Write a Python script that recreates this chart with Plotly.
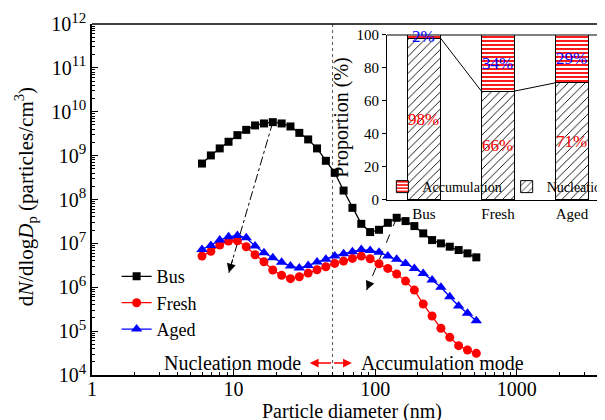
import math
import plotly.graph_objects as go

# ---------------- data ----------------
diameter_nm = [5.98, 6.91, 7.98, 9.21, 10.64, 12.28, 14.18, 16.38, 18.91, 21.84,
               25.22, 29.12, 33.63, 38.84, 44.85, 51.79, 59.81, 69.07, 79.76, 92.10,
               106.4, 122.8, 141.8, 163.8, 189.1, 218.4, 252.2, 291.2, 336.3, 388.4,
               448.5, 517.9]

bus = [6.6e8, 1.01e9, 1.46e9, 2.07e9, 2.93e9, 3.87e9, 4.88e9, 5.41e9, 5.79e9, 5.41e9,
       4.62e9, 3.30e9, 2.34e9, 1.46e9, 7.62e8, 4.06e8, 1.60e8, 6.46e7, 2.79e7, 1.81e7,
       2.04e7, 2.94e7, 3.83e7, 3.22e7, 2.48e7, 1.69e7, 1.19e7, 1.00e7, 8.4e6, 7.05e6,
       5.92e6, 4.80e6]

fresh = [5.14e6, 6.58e6, 9.14e6, 1.13e7, 1.15e7, 8.38e6, 5.51e6, 3.81e6, 2.47e6, 1.87e6,
         1.57e6, 1.74e6, 2.10e6, 2.51e6, 2.94e6, 3.50e6, 3.95e6, 4.55e6, 5.14e6, 4.47e6,
         3.43e6, 2.69e6, 2.00e6, 1.38e6, 8.63e5, 4.14e5, 2.21e5, 1.16e5, 7.23e4, 4.66e4,
         3.71e4, 3.12e4]

aged = [7.29e6, 9.0e6, 1.19e7, 1.41e7, 1.52e7, 1.34e7, 8.67e6, 6.11e6, 4.70e6, 3.69e6,
        3.04e6, 2.74e6, 3.15e6, 3.74e6, 4.35e6, 5.18e6, 5.81e6, 6.46e6, 7.21e6, 6.92e6,
        6.31e6, 5.14e6, 4.32e6, 3.50e6, 2.69e6, 2.07e6, 1.46e6, 9.95e5, 6.08e5, 3.73e5,
        2.54e5, 1.73e5]

categories = ["Bus", "Fresh", "Aged"]
nucleation_pct = [98, 66, 71]
accumulation_pct = [2, 34, 29]

x_tick_vals = [1, 10, 100, 1000]
x_tick_text = ["1", "10", "100", "1000"]
y_exponents = [4, 5, 6, 7, 8, 9, 10, 11, 12]
y_tick_text = ["10<sup><span style='font-size:15px'>%d</span></sup>" % e for e in y_exponents]
inset_y_ticks = [0, 20, 40, 60, 80, 100]

mode_boundary_nm = 50
# arrows (start index on Bus curve, tip position)
arrow1_start_idx, arrow1_tip = 8, (9.25, 2.14e6)
arrow2_start_idx, arrow2_tip = 22, (87.0, 8.6e5)

FONT = "Liberation Serif"
fig = go.Figure()

# vertical dotted boundary line
fig.add_trace(go.Scatter(x=[mode_boundary_nm, mode_boundary_nm], y=[1e4, 1e12],
                         mode="lines", line=dict(color="#555555", width=1, dash="dot"),
                         showlegend=False, hoverinfo="skip"))

# dashed arrow shafts
for idx, tip, dash in [(arrow1_start_idx, arrow1_tip, "dashdot"),
                       (arrow2_start_idx, arrow2_tip, "dash")]:
    fig.add_trace(go.Scatter(x=[diameter_nm[idx], tip[0]], y=[bus[idx], tip[1]],
                             mode="lines", line=dict(color="black", width=1, dash=dash),
                             showlegend=False, hoverinfo="skip"))

series = [("Bus", bus, "black", "square", 8),
          ("Fresh", fresh, "red", "circle", 9),
          ("Aged", aged, "blue", "triangle-up", 10)]
for name, vals, col, sym, sz in series:
    fig.add_trace(go.Scatter(x=diameter_nm, y=vals, name=name, mode="lines+markers",
                             line=dict(color=col, width=1.3),
                             marker=dict(symbol=sym, size=sz, color=col),
                             legend="legend"))

# inset bars
bar_w = 0.45
fig.add_trace(go.Bar(x=list(range(len(categories))), y=nucleation_pct, name="Nucleation",
                     width=bar_w, xaxis="x2", yaxis="y2", legend="legend2", legendrank=2,
                     marker=dict(color="white", line=dict(color="black", width=1),
                                 pattern=dict(shape="/", fgcolor="black", bgcolor="white",
                                              size=6, solidity=0.15))))
fig.add_trace(go.Bar(x=list(range(len(categories))), y=accumulation_pct, name="Accumulation",
                     width=bar_w, xaxis="x2", yaxis="y2", legend="legend2", legendrank=1,
                     marker=dict(color="white", line=dict(color="black", width=1),
                                 pattern=dict(shape="-", fgcolor="red", bgcolor="white",
                                              size=4, solidity=0.45))))
for i in range(len(categories) - 1):
    fig.add_trace(go.Scatter(x=[i + bar_w / 2, i + 1 - bar_w / 2],
                             y=[nucleation_pct[i], nucleation_pct[i + 1]],
                             mode="lines", line=dict(color="black", width=1),
                             xaxis="x2", yaxis="y2", showlegend=False, hoverinfo="skip"))

annotations = []
for i, (n, a) in enumerate(zip(nucleation_pct, accumulation_pct)):
    annotations.append(dict(x=i, y=n / 2, xref="x2", yref="y2", text="%d%%" % n,
                            showarrow=False, font=dict(family=FONT, size=17, color="red")))
    annotations.append(dict(x=i, y=n + a / 2, xref="x2", yref="y2", text="%d%%" % a,
                            showarrow=False, font=dict(family=FONT, size=17, color="blue")))

# arrowheads of dashed arrows
for idx, tip in [(arrow1_start_idx, arrow1_tip), (arrow2_start_idx, arrow2_tip)]:
    lx0, ly0 = math.log10(diameter_nm[idx]), math.log10(bus[idx])
    lx1, ly1 = math.log10(tip[0]), math.log10(tip[1])
    f = 0.1
    annotations.append(dict(x=lx1, y=ly1, ax=lx1 + f * (lx0 - lx1), ay=ly1 + f * (ly0 - ly1),
                            xref="x", yref="y", axref="x", ayref="y", text="",
                            showarrow=True, arrowhead=2, arrowsize=1.8, arrowwidth=1,
                            arrowcolor="black"))

# mode text and red double arrow
mode_y = 1.87e4
for tip in (34.5, 68.4):
    annotations.append(dict(x=math.log10(tip), y=math.log10(mode_y),
                            ax=math.log10(mode_boundary_nm), ay=math.log10(mode_y),
                            xref="x", yref="y", axref="x", ayref="y", text="",
                            showarrow=True, arrowhead=2, arrowsize=1.1, arrowwidth=1.6,
                            arrowcolor="red"))
annotations.append(dict(x=math.log10(31), y=math.log10(mode_y), xref="x", yref="y",
                        text="Nucleation mode", showarrow=False, xanchor="right",
                        font=dict(family=FONT, size=20)))
annotations.append(dict(x=math.log10(77), y=math.log10(mode_y), xref="x", yref="y",
                        text="Accumulation mode", showarrow=False, xanchor="left",
                        font=dict(family=FONT, size=20)))

# axis titles
annotations.append(dict(x=0.507, y=-0.103, xref="paper", yref="paper",
                        text="Particle diameter (nm)", showarrow=False,
                        xanchor="center", yanchor="middle", font=dict(family=FONT, size=20)))
annotations.append(dict(x=-0.13, y=0.507, xref="paper", yref="paper", textangle=-90,
                        text="d<i>N</i>/dlog<i>D</i><sub>p</sub> (particles/cm<sup>3</sup>)",
                        showarrow=False, xanchor="center", yanchor="middle",
                        font=dict(family=FONT, size=21)))

minor_x = [m * 10 ** e for e in range(0, 4) for m in range(2, 10)]
minor_y = [m * 10 ** e for e in range(4, 12) for m in range(2, 10)]

# page body has an 8px margin, so the figure is sized 597x412 and offset accordingly
fig.update_layout(
    width=597, height=412, margin=dict(l=84, r=0, t=16, b=45, autoexpand=False),
    template="none", paper_bgcolor="white", plot_bgcolor="rgba(0,0,0,0)",
    font=dict(family=FONT, size=20, color="black"),
    barmode="stack",
    xaxis=dict(type="log", range=[0, 3.623], tickvals=x_tick_vals, ticktext=x_tick_text,
               ticks="inside", ticklen=6, tickwidth=1.2, tickcolor="black",
               minor=dict(tickvals=minor_x, ticks="inside", ticklen=3, tickcolor="black"),
               showline=True, linecolor="black", linewidth=1.5, showgrid=False,
               zeroline=False, automargin=False, tickfont=dict(size=20),
               ticklabelstandoff=-5),
    yaxis=dict(type="log", range=[4, 12], tickvals=[10 ** e for e in y_exponents],
               ticktext=y_tick_text, ticks="inside", ticklen=6, tickwidth=1.2,
               tickcolor="black",
               minor=dict(tickvals=minor_y, ticks="inside", ticklen=3, tickcolor="black"),
               showline=True, linecolor="black", linewidth=1.5, showgrid=False,
               zeroline=False, automargin=False, tickfont=dict(size=20)),
    xaxis2=dict(domain=[0.575, 1], anchor="y2", range=[-0.5, 2.446],
                tickvals=list(range(len(categories))), ticktext=categories, ticks="",
                showline=True, linecolor="black", linewidth=1.2, showgrid=False,
                zeroline=False, automargin=False, tickfont=dict(size=15)),
    yaxis2=dict(domain=[0.4986, 0.9687], anchor="x2", range=[0, 100],
                tickvals=inset_y_ticks, ticks="outside", ticklen=4, tickcolor="black",
                showline=True, linecolor="black", linewidth=1.2, showgrid=False,
                zeroline=False, automargin=False, tickfont=dict(size=15),
                title=dict(text="Proportion (%)", font=dict(size=20), standoff=2)),
    legend=dict(x=0.048, y=0.333, xanchor="left", yanchor="top",
                bgcolor="rgba(0,0,0,0)", font=dict(size=18), tracegroupgap=0),
    legend2=dict(orientation="h", x=0.566, y=0.49, xanchor="left", yanchor="bottom",
                 traceorder="normal", bgcolor="rgba(0,0,0,0)", font=dict(size=14)),
    annotations=annotations,
    shapes=[
        dict(type="line", xref="paper", yref="paper", x0=0, x1=1, y0=1, y1=1,
             line=dict(color="black", width=1.5)),
        dict(type="line", xref="paper", yref="paper", x0=0.575, x1=1, y0=0.9687, y1=0.9687,
             line=dict(color="black", width=1.2)),
    ],
)

fig.write_html("out.html")
